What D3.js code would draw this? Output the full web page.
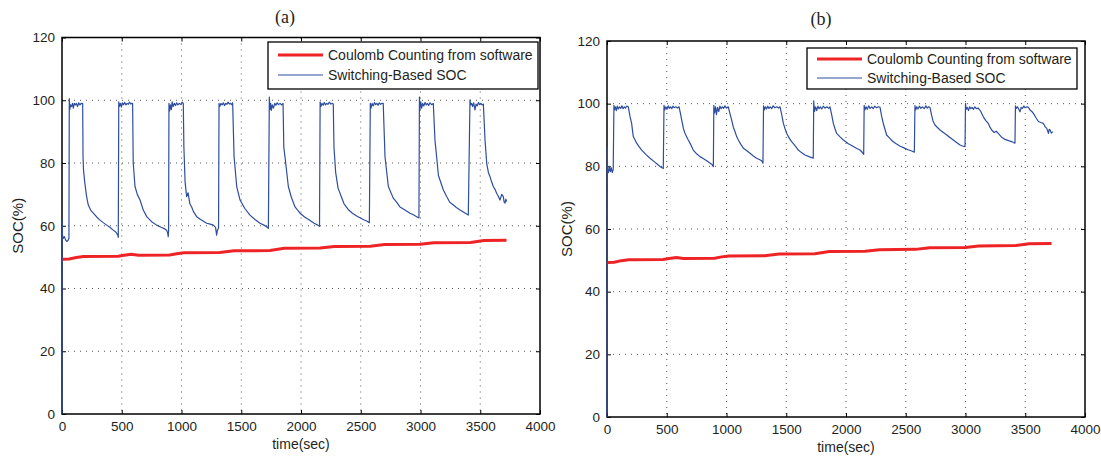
<!DOCTYPE html>
<head>
  <meta charset="utf-8">
  <script src="https://d3js.org/d3.v7.min.js"></script>
  <style>
    body { margin:0; background:#fff; }
    text { font-family: "Liberation Sans", Arial, sans-serif; fill:#231f20; }
  </style>
</head>

<body>
  <script>

  // ---- data ----
  var timeTicks = [0, 500, 1000, 1500, 2000, 2500, 3000, 3500, 4000];
  var socTicks = [0, 20, 40, 60, 80, 100, 120];
  var seriesNames = ["Coulomb Counting from software", "Switching-Based SOC"];
  var panelTitles = ["(a)", "(b)"];
  var xLabel = "time(sec)";
  var yLabel = "SOC(%)";

  // Coulomb counting (same in both panels): [time, soc]
  var coulombSoc = [[0,49.3],[60,49.4],[120,49.9],[180,50.2],[470,50.3],[520,50.6],[580,50.9],[640,50.6],
    [900,50.7],[960,51.1],[1020,51.4],[1320,51.5],[1440,52.0],[1740,52.1],[1860,52.8],[2160,52.9],
    [2280,53.4],[2580,53.5],[2700,54.0],[3000,54.1],[3110,54.6],[3420,54.7],[3530,55.3],[3720,55.4]];

  // switching-based SOC, panel (a)
  var switchingSocA = [[0,0],[1,62],[4,57],[10,56],[20,56.5],[30,55.5],[40,55],[50,55.3],[58,56],
    [61,100.5],[65,97],[72,98.5],[80,98],[88,99],[95,97.5],[103,99],[112,98.5],[120,99],[130,98],[140,99.2],[150,98.5],[160,99],[170,98.8],[173,99],
    [176,82],[180,77.8],[190,74],[206,69.3],[220,66.6],[240,65],[262,64],[290,62.8],[318,61.8],[345,61],[374,60.2],[400,59.5],[429,58.6],[450,58],[465,57.2],[471,56.3],
    [475,99.5],[480,98],[488,99],[497,97.8],[505,99.2],[515,98.6],[525,99.3],[535,98.5],[545,99],[555,98.7],[565,99.4],[575,98.8],[585,99],[591,99],
    [596,80],[611,72.5],[630,70],[653,68.2],[680,65],[709,62.9],[750,61.3],[792,60.2],[830,59.5],[860,59],[876,58.6],[885,57.5],[889,56.5],[892,58.5],
    [895,99],[900,96.5],[907,98.5],[915,97],[922,99.5],[930,98],[940,99],[950,98.3],[960,99.2],[970,98.5],[982,99],[995,98.6],[1005,99.4],[1015,99],
    [1020,85],[1030,74],[1043,69.3],[1055,70.5],[1070,67],[1085,66],[1100,64.5],[1127,62.9],[1160,62],[1190,61.3],[1211,60.8],[1240,60.5],[1266,60.2],[1285,59.5],[1294,57],[1300,58.5],[1310,59.3],
    [1314,99],[1320,98],[1330,99],[1340,98.5],[1350,99.2],[1360,98.3],[1370,99],[1380,98.7],[1390,99.4],[1400,98.8],[1410,99],[1420,98.6],[1428,99.2],
    [1440,82],[1462,72.5],[1490,68.2],[1530,65.5],[1573,63.4],[1615,62],[1657,60.8],[1690,60.2],[1715,59.6],[1727,59.2],
    [1735,101],[1740,97],[1746,99],[1752,96.8],[1760,98.5],[1770,97.5],[1780,99],[1790,98.4],[1800,99.2],[1812,98.6],[1825,99],[1838,98.5],[1850,99],
    [1856,85],[1866,82],[1894,72.5],[1920,69],[1950,66],[1992,64],[2030,62.8],[2070,61.8],[2110,60.8],[2140,60.2],[2155,59.8],
    [2160,99.5],[2166,98],[2175,99],[2185,98.4],[2195,99.3],[2205,98.5],[2215,99],[2225,98.7],[2238,99.4],[2250,98.8],[2262,99],[2270,98.8],
    [2276,85],[2290,77],[2310,72],[2335,69.5],[2360,67],[2395,65.2],[2430,64],[2470,63],[2520,62],[2550,61.5],[2572,61],
    [2580,99],[2586,97.5],[2595,99],[2605,98.2],[2615,99.3],[2625,98.6],[2635,99],[2645,98.4],[2655,99.2],[2665,98.7],[2678,99],[2688,99],
    [2703,82],[2731,72.5],[2772,68.8],[2800,67.5],[2828,66],[2870,65],[2912,64],[2940,63.5],[2968,62.9],[2987,62.5],
    [2991,101],[2995,97],[3002,99.5],[3010,97.5],[3018,99],[3028,98.2],[3038,99.3],[3048,98.5],[3058,99],[3068,98.3],[3080,99.2],[3092,98.6],[3107,99],
    [3121,87.3],[3135,82],[3150,76],[3163,74.6],[3191,71.4],[3219,69.3],[3245,67.5],[3275,66.6],[3300,65.8],[3331,65],[3365,64.2],[3400,63.4],
    [3414,100.1],[3420,98.5],[3428,99],[3436,98],[3445,99.2],[3456,96.9],[3465,98.8],[3475,98.2],[3485,99.3],[3495,98.6],[3505,99],[3515,98.5],[3526,98.8],
    [3540,87.3],[3554,79.9],[3568,77],[3582,75.6],[3595,74],[3609,72.5],[3625,71.5],[3638,70.3],[3650,69.5],[3665,68.2],[3680,70],[3693,69.3],[3700,67.5],[3707,67.2],[3714,68.5],[3721,67.7]];

  // switching-based SOC, panel (b)
  var switchingSocB = [[0,0],[2,86],[5,79],[12,78],[20,80],[28,78.3],[36,79.5],[44,78],[52,79],
    [58,99.5],[63,98],[70,99],[78,97.8],[86,99.2],[95,98.3],[105,99],[115,98.5],[125,99.3],[135,98.4],[145,99],[155,98.6],[165,99.2],[178,99],
    [192,96],[206,93.7],[220,89.5],[234,88.5],[248,87.4],[270,86.2],[290,85.2],[325,83.8],[360,82.6],[395,81.5],[429,80.4],[450,79.8],[471,79.3],
    [477,99.5],[483,98],[492,99],[502,98.2],[512,99.3],[522,98.5],[532,99],[542,98.4],[552,99.2],[562,98.7],[575,99],[590,98.6],[603,99],
    [614,97],[625,94.8],[640,92],[653,90.5],[680,88.4],[700,87],[722,85.2],[750,84],[778,83.1],[805,82.5],[834,81.8],[855,81.2],[876,80.7],[890,79.9],
    [894,99.5],[900,97],[908,99],[916,96.5],[925,98.8],[935,97.5],[945,99.2],[955,98.4],[965,99],[975,98.5],[987,99.3],[1000,98.6],[1015,99],
    [1028,97],[1043,94.8],[1057,92.5],[1071,91.1],[1085,89.5],[1099,88.4],[1120,87],[1141,85.8],[1170,85],[1197,84.2],[1225,83.3],[1252,82.6],[1275,82.2],[1294,81.8],[1305,81],
    [1310,99.3],[1316,98],[1325,99],[1335,98.3],[1345,99.2],[1355,98.5],[1365,99],[1378,98.4],[1390,99.3],[1405,98.7],[1420,99],[1435,98.6],[1448,99],
    [1462,96.5],[1476,93.7],[1490,92],[1504,90.5],[1525,89],[1545,87.9],[1575,86.5],[1601,85.2],[1630,84.3],[1657,83.6],[1690,83.1],[1726,82.6],
    [1730,100.9],[1736,97.5],[1745,99],[1755,97.8],[1765,99.2],[1775,98.4],[1785,99],[1797,98.3],[1810,99.2],[1825,98.6],[1840,99],[1855,98.5],[1866,99],
    [1880,96.5],[1894,93.7],[1908,92],[1922,90.5],[1950,89.4],[1978,88.4],[2020,87.2],[2062,86.3],[2090,85.7],[2117,85.2],[2135,84.5],[2148,83.8],
    [2152,99.5],[2158,98],[2168,99],[2178,98.2],[2190,99.3],[2202,98.5],[2215,99],[2228,98.4],[2240,99.2],[2255,98.7],[2270,99],[2285,98.8],
    [2298,96],[2310,94],[2325,92],[2340,90],[2365,89],[2390,88],[2420,87.2],[2450,86.5],[2485,85.9],[2520,85.3],[2550,84.9],[2572,84.5],
    [2577,99.4],[2583,98],[2592,99],[2602,98.3],[2614,99.2],[2626,98.5],[2640,99],[2655,98.4],[2668,99.3],[2680,98.6],[2692,99],[2703,98.8],
    [2715,96.5],[2728,94.5],[2745,93.2],[2765,92.4],[2787,91.6],[2815,90.8],[2843,90],[2870,89.2],[2898,88.4],[2925,87.6],[2954,86.8],[2975,86.5],[2996,86.3],
    [3000,100.1],[3005,98.2],[3015,98.8],[3025,97.8],[3035,99],[3045,98.4],[3055,98.8],[3067,98.2],[3078,99],[3090,98.4],[3107,98.6],
    [3128,97.5],[3149,95.8],[3170,94.6],[3191,93.7],[3205,92.5],[3219,91.6],[3240,90.8],[3257,91.2],[3274,90.5],[3300,89.4],[3331,88.6],[3360,88.2],[3386,87.9],[3400,87.6],[3414,87.4],
    [3418,99.3],[3425,98.5],[3435,99],[3445,98.3],[3456,97.4],[3466,98.8],[3476,98.5],[3488,99.2],[3500,98.7],[3513,99],[3526,98.8],
    [3540,98],[3555,97.5],[3568,96.9],[3590,95.5],[3610,94.3],[3630,94],[3652,93.7],[3667,92.6],[3680,92.1],[3694,90.5],[3700,91.8],[3708,91.6],[3718,90.6],[3731,91.1]];

  // ---- layout ----
  var totalWidth = 1101, totalHeight = 457;
  var red = "#ee2326", blue = "#2d4da0";

  var panels = [
    {title: panelTitles[0], soc: switchingSocA, left: 62, top: 37.5, width: 478, height: 376.5,
     titleX: 285, titleY: 23, legend: {x: 268, y: 42, w: 270, h: 47, row1: 55, row2: 75},
     yLabelX: 23, xLabelY: 449},
    {title: panelTitles[1], soc: switchingSocB, left: 607, top: 41, width: 478, height: 376,
     titleX: 821, titleY: 25, legend: {x: 807, y: 48, w: 270, h: 41, row1: 59, row2: 78},
     yLabelX: 572, xLabelY: 452}
  ];

  var svg = d3.select("body").append("svg")
    .attr("width", totalWidth)
    .attr("height", totalHeight);

  panels.forEach(function(p, i) {
    var x = d3.scaleLinear().domain([0, 4000]).range([0, p.width]);
    var y = d3.scaleLinear().domain([0, 120]).range([p.height, 0]);

    var g = svg.append("g").attr("transform", "translate(" + p.left + "," + p.top + ")");

    // dotted grid
    g.append("g").selectAll("line")
      .data(timeTicks.slice(1, -1))
      .enter().append("line")
      .attr("x1", function(d) { return x(d); }).attr("x2", function(d) { return x(d); })
      .attr("y1", 0).attr("y2", p.height)
      .attr("stroke", "#555").attr("stroke-dasharray", "1,5");
    g.append("g").selectAll("line")
      .data(socTicks.slice(1, -1))
      .enter().append("line")
      .attr("y1", function(d) { return y(d); }).attr("y2", function(d) { return y(d); })
      .attr("x1", 0).attr("x2", p.width)
      .attr("stroke", "#555").attr("stroke-dasharray", "1,5");

    // axes, ticks point inward like matlab
    var fmt = d3.format("d");
    var axB = g.append("g").attr("transform", "translate(0," + p.height + ")")
      .call(d3.axisBottom(x).tickValues(timeTicks).tickFormat(fmt).tickSize(-4).tickPadding(7));
    var axL = g.append("g")
      .call(d3.axisLeft(y).tickValues(socTicks).tickFormat(fmt).tickSize(-4).tickPadding(7));
    var axT = g.append("g")
      .call(d3.axisTop(x).tickValues(timeTicks).tickSize(-4).tickFormat(""));
    var axR = g.append("g").attr("transform", "translate(" + p.width + ",0)")
      .call(d3.axisRight(y).tickValues(socTicks).tickSize(-4).tickFormat(""));
    [axB, axL, axT, axR].forEach(function(a) {
      a.select(".domain").remove();
      a.selectAll("line").attr("stroke", "#000");
      a.selectAll("text").attr("font-size", 13.5).attr("fill", "#231f20")
        .attr("font-family", "'Liberation Sans', Arial, sans-serif");
    });

    // frame (under the data, the trace runs up the left edge at t=0)
    g.append("rect").attr("width", p.width).attr("height", p.height)
      .attr("fill", "none").attr("stroke", "#000").attr("stroke-width", 1.5);

    // data lines
    var clipId = "clip" + i;
    g.append("clipPath").attr("id", clipId).append("rect")
      .attr("x", -1).attr("y", -1).attr("width", p.width + 2).attr("height", p.height + 2);
    var line = d3.line()
      .x(function(d) { return x(d[0]); })
      .y(function(d) { return y(d[1]); });

    g.append("path").datum(coulombSoc)
      .attr("clip-path", "url(#" + clipId + ")")
      .attr("d", line).attr("fill", "none")
      .attr("stroke", red).attr("stroke-width", 3);
    g.append("path").datum(p.soc)
      .attr("clip-path", "url(#" + clipId + ")")
      .attr("d", line).attr("fill", "none")
      .attr("stroke", blue).attr("stroke-width", 1.2).attr("stroke-linejoin", "round");

    // legend
    var lg = p.legend;
    svg.append("rect").attr("x", lg.x).attr("y", lg.y).attr("width", lg.w).attr("height", lg.h)
      .attr("fill", "#fff").attr("stroke", "#000").attr("stroke-width", 1.3);
    [[lg.row1, red, 3], [lg.row2, blue, 1]].forEach(function(r, k) {
      svg.append("line").attr("x1", lg.x + 10).attr("x2", lg.x + 55)
        .attr("y1", r[0]).attr("y2", r[0])
        .attr("stroke", r[1]).attr("stroke-width", r[2]);
      svg.append("text").attr("x", lg.x + 60).attr("y", r[0] + 5)
        .attr("font-size", 14).text(seriesNames[k]);
    });

    // labels
    svg.append("text").attr("x", p.titleX).attr("y", p.titleY)
      .attr("text-anchor", "middle").attr("font-size", 18)
      .style("font-family", "'Liberation Serif', 'DejaVu Serif', serif")
      .text(p.title);
    svg.append("text").attr("x", p.left + p.width / 2).attr("y", p.xLabelY)
      .attr("text-anchor", "middle").attr("font-size", 14).text(xLabel);
    svg.append("text")
      .attr("transform", "translate(" + p.yLabelX + "," + (p.top + p.height / 2) + ") rotate(-90)")
      .attr("text-anchor", "middle").attr("font-size", 15).text(yLabel);
  });

  </script>
</body>
